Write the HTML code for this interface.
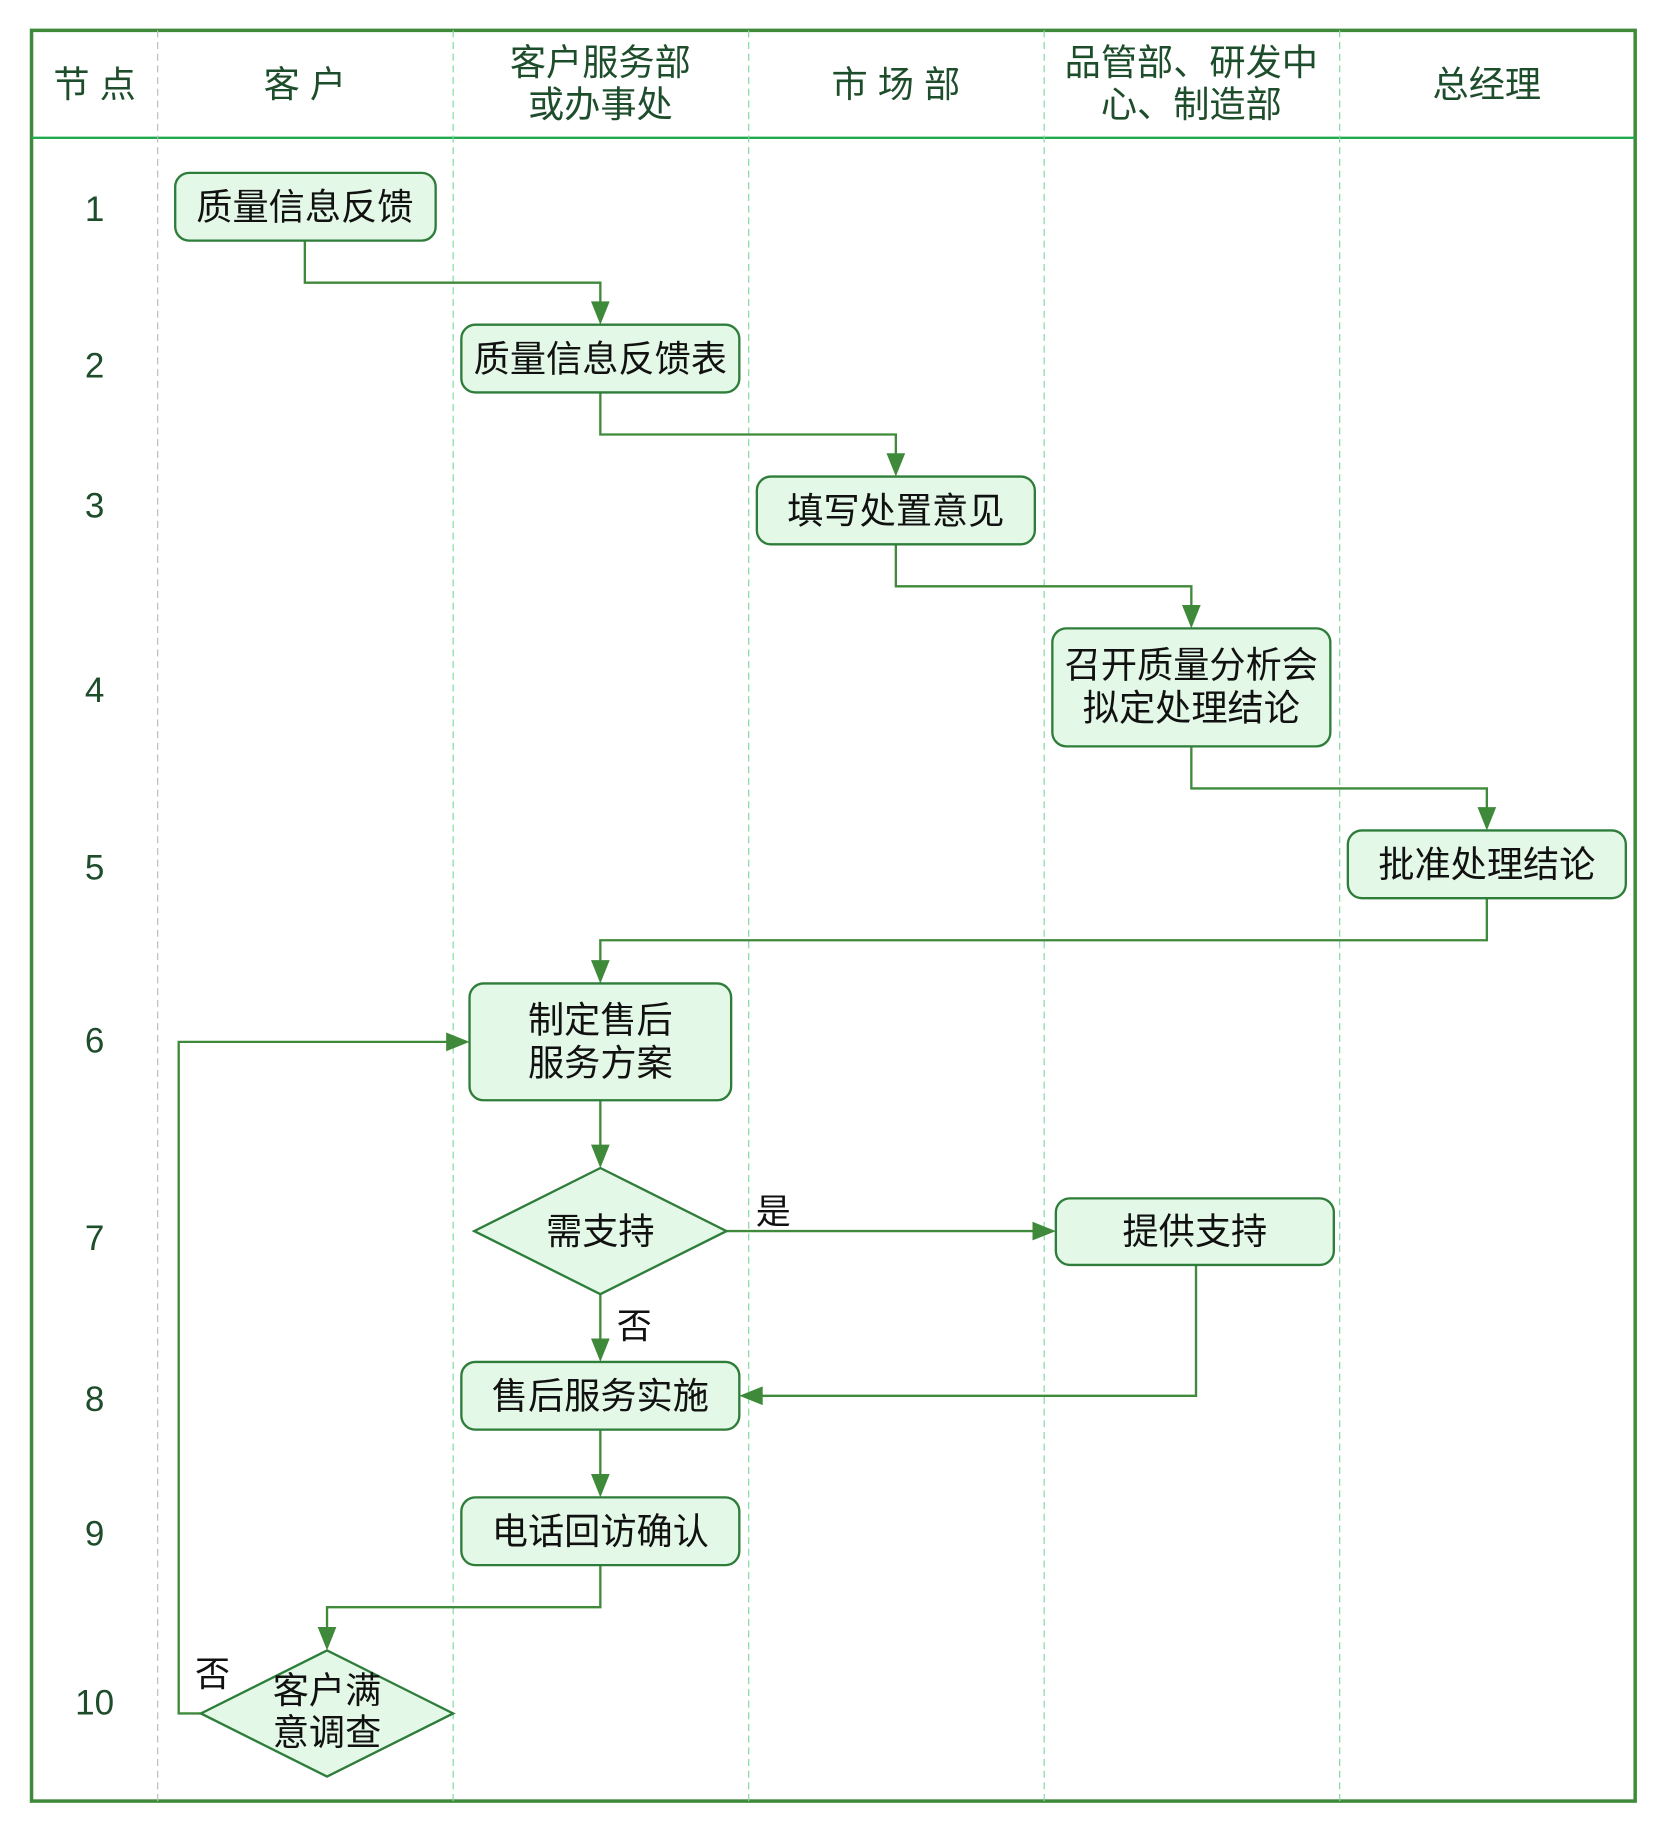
<!DOCTYPE html>
<html><head><meta charset="utf-8"><style>
html,body{margin:0;padding:0;background:#fff;}
svg{display:block;}
text{font-family:"Liberation Sans","Noto Sans CJK SC",sans-serif;}
.h{fill:#1e4d2b;font-size:31px;text-anchor:middle;}
.n{fill:#1e4d2b;font-size:30px;text-anchor:middle;}
.t{fill:#111;font-size:31px;text-anchor:middle;}
.l{fill:#111;font-size:30px;text-anchor:middle;}
.b{fill:#e3f8e6;stroke:#2e7d3a;stroke-width:2;}
.c{fill:none;stroke:#3f8a3a;stroke-width:2;}
.a{fill:#3f8a3a;}
</style></head><body>
<svg width="1659" height="1827" viewBox="0 0 1420.4 1564.2" preserveAspectRatio="none" xmlns="http://www.w3.org/2000/svg">
<rect x="27" y="26" width="1373" height="1516" fill="none" stroke="#3f8a3a" stroke-width="3"/>
<line x1="27" y1="118" x2="1400" y2="118" stroke="#22aa4f" stroke-width="2"/>
<line x1="135" y1="26" x2="135" y2="1542" stroke="#bbb" stroke-width="1" stroke-dasharray="6,4"/>
<g stroke="#7fd9a0" stroke-width="1" stroke-dasharray="6,4">
<line x1="388" y1="26" x2="388" y2="1542"/><line x1="641" y1="26" x2="641" y2="1542"/>
<line x1="894" y1="26" x2="894" y2="1542"/><line x1="1147" y1="26" x2="1147" y2="1542"/>
</g>
<text class="h" x="81" y="83">节 点</text>
<text class="h" x="261" y="83">客 户</text>
<text class="h" x="514" y="64">客户服务部</text><text class="h" x="514" y="100">或办事处</text>
<text class="h" x="767" y="83">市 场 部</text>
<text class="h" x="1020" y="64">品管部、研发中</text><text class="h" x="1020" y="100">心、制造部</text>
<text class="h" x="1273" y="83">总经理</text>
<g class="n">
<text x="81" y="189">1</text><text x="81" y="323">2</text><text x="81" y="443">3</text><text x="81" y="601">4</text><text x="81" y="753">5</text><text x="81" y="901">6</text><text x="81" y="1070">7</text><text x="81" y="1208">8</text><text x="81" y="1323">9</text><text x="81" y="1468">10</text>
</g>
<polyline class="c" points="261,206 261,242 514,242 514,262"/><polygon class="a" points="506,258 522,258 514,278"/>
<polyline class="c" points="514,336 514,372 767,372 767,392"/><polygon class="a" points="759,388 775,388 767,408"/>
<polyline class="c" points="767,466 767,502 1020,502 1020,522"/><polygon class="a" points="1012,518 1028,518 1020,538"/>
<polyline class="c" points="1020,639 1020,675 1273,675 1273,695"/><polygon class="a" points="1265,691 1281,691 1273,711"/>
<polyline class="c" points="1273,769 1273,805 514,805 514,826"/><polygon class="a" points="506,822 522,822 514,842"/>
<polyline class="c" points="514,942 514,984"/><polygon class="a" points="506,980 522,980 514,1000"/>
<polyline class="c" points="622,1054 888,1054"/><polygon class="a" points="884,1046 884,1062 904,1054"/>
<polyline class="c" points="514,1108 514,1150"/><polygon class="a" points="506,1146 522,1146 514,1166"/>
<polyline class="c" points="1024,1083 1024,1195 649,1195"/><polygon class="a" points="653,1187 653,1203 633,1195"/>
<polyline class="c" points="514,1224 514,1266"/><polygon class="a" points="506,1262 522,1262 514,1282"/>
<polyline class="c" points="514,1340 514,1376 280,1376 280,1397"/><polygon class="a" points="272,1393 288,1393 280,1413"/>
<polyline class="c" points="172,1467 153,1467 153,892 386,892"/><polygon class="a" points="382,884 382,900 402,892"/>
<rect class="b" x="150" y="148" width="223" height="58" rx="12"/><text class="t" x="261" y="188">质量信息反馈</text>
<rect class="b" x="395" y="278" width="238" height="58" rx="12"/><text class="t" x="514" y="318">质量信息反馈表</text>
<rect class="b" x="648" y="408" width="238" height="58" rx="12"/><text class="t" x="767" y="448">填写处置意见</text>
<rect class="b" x="901" y="538" width="238" height="101" rx="12"/><text class="t" x="1020" y="580">召开质量分析会</text><text class="t" x="1020" y="617">拟定处理结论</text>
<rect class="b" x="1154" y="711" width="238" height="58" rx="12"/><text class="t" x="1273" y="751">批准处理结论</text>
<rect class="b" x="402" y="842" width="224" height="100" rx="12"/><text class="t" x="514" y="884">制定售后</text><text class="t" x="514" y="921">服务方案</text>
<polygon class="b" points="514,1000 622,1054 514,1108 406,1054"/><text class="t" x="514" y="1065">需支持</text>
<rect class="b" x="904" y="1026" width="238" height="57" rx="12"/><text class="t" x="1023" y="1065">提供支持</text>
<rect class="b" x="395" y="1166" width="238" height="58" rx="12"/><text class="t" x="514" y="1206">售后服务实施</text>
<rect class="b" x="395" y="1282" width="238" height="58" rx="12"/><text class="t" x="514" y="1322">电话回访确认</text>
<polygon class="b" points="280,1413 388,1467 280,1521 172,1467"/><text class="t" x="280" y="1458">客户满</text><text class="t" x="280" y="1494">意调查</text>
<text class="l" x="662" y="1048">是</text>
<text class="l" x="543" y="1146">否</text>
<text class="l" x="182" y="1444">否</text>
</svg>
</body></html>
